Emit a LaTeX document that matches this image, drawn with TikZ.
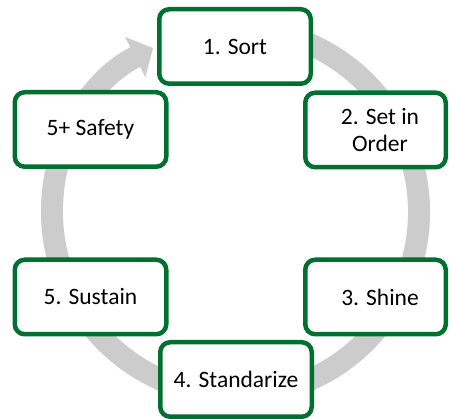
\documentclass[tikz,border=0pt]{standalone}
\usepackage{fontspec}
\setmainfont{Carlito}
\usetikzlibrary{arrows.meta}
\definecolor{boxgreen}{RGB}{0,112,48}
\definecolor{ringgray}{RGB}{204,204,204}
\begin{document}
\begin{tikzpicture}[x=1pt,y=1pt,
  stagebox/.style={draw=boxgreen, line width=4.5pt, fill=white,
    rounded corners=10pt, minimum width=151.5pt, minimum height=74.5pt,
    align=center, inner sep=0pt, text=black,
    font=\fontsize{23.5}{27}\selectfont},
  narrowbox/.style={stagebox, minimum width=140.5pt},
  cycle ring/.style={draw=ringgray, line width=22pt,
    -{Triangle[length=20pt, width=44pt]}}
]
\useasboundingbox (0,0) rectangle (449,419);

% circular flow behind the stages
\coordinate (hub) at (235.5,207);
\draw[cycle ring] (hub) ++(100:183.5)
  arc[start angle=100, end angle=-243.3, radius=183.5];

% the stages
\node[stagebox]  (sort)   at (235,372.5) {1. Sort};
\node[narrowbox] (order)  at (375.5,289) {\hspace*{9pt}2. Set in\\\hspace*{9pt}Order};
\node[narrowbox] (shine)  at (375.5,122) {\hspace*{9pt}3. Shine};
\node[stagebox]  (stand)  at (236,39.5)  {4. Standarize};
\node[stagebox]  (sustain) at (90.5,122) {5. Sustain};
\node[stagebox]  (safety) at (90.5,289.5) {5+ Safety};
\end{tikzpicture}
\end{document}
